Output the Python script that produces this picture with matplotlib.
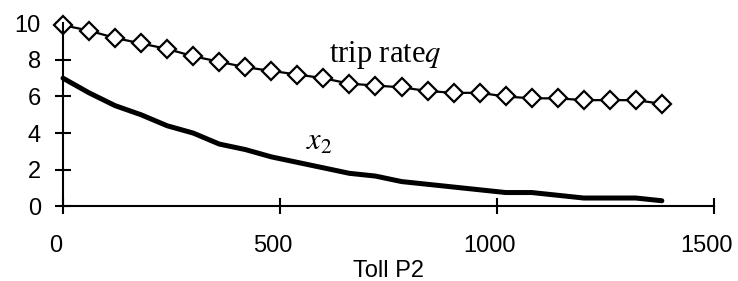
import numpy as np
import matplotlib.pyplot as plt
import matplotlib.transforms as mtransforms

# Data
toll = np.arange(0, 1381, 60)
trip_rate = [9.9, 9.6, 9.2, 8.9, 8.6, 8.2, 7.9, 7.6, 7.4, 7.2, 7.0, 6.7,
             6.6, 6.5, 6.3, 6.2, 6.2, 6.0, 5.9, 5.9, 5.8, 5.8, 5.8, 5.6]
x2 = [7.0, 6.2, 5.5, 5.0, 4.4, 4.0, 3.4, 3.1, 2.7, 2.4, 2.1, 1.8,
      1.65, 1.35, 1.2, 1.05, 0.9, 0.75, 0.75, 0.6, 0.45, 0.45, 0.45, 0.3]

plt.rcParams['font.family'] = ['Liberation Sans', 'DejaVu Sans']
plt.rcParams['mathtext.fontset'] = 'stix'

fig = plt.figure(figsize=(7.38, 2.81), dpi=100)
ax = fig.add_axes([0.0854, 0.266, 0.882, 0.651])

ax.plot(toll, x2, color='black', linewidth=3.6, solid_capstyle='round',
        solid_joinstyle='round', clip_on=False)
ax.plot(toll, trip_rate, color='black', linewidth=1.6, marker='D',
        markersize=9.5, markerfacecolor='white', markeredgecolor='black',
        markeredgewidth=1.6, clip_on=False)

ax.set_xlim(0, 1500)
ax.set_ylim(0, 10)
ax.set_xticks([0, 500, 1000, 1500])
ax.set_yticks([0, 2, 4, 6, 8, 10])
for s in ['top', 'right']:
    ax.spines[s].set_visible(False)
for s in ['left', 'bottom']:
    ax.spines[s].set_linewidth(1.5)
ax.tick_params(axis='both', direction='inout', length=12, width=1.5,
               labelsize=17)
ax.tick_params(axis='x', pad=15)
ax.tick_params(axis='y', pad=10)
ax.set_xlabel('Toll P2', fontsize=17, labelpad=2)

# x tick labels sit a little left of their ticks in the original
shift = mtransforms.ScaledTranslation(-0.07, 0, fig.dpi_scale_trans)
for lab in ax.get_xticklabels():
    lab.set_transform(lab.get_transform() + shift)

ax.text(613, 7.9, r'trip rate$q$', fontsize=22, family='Liberation Serif',
        va='baseline')
ax.text(560, 3.08, r'$x_2$', fontsize=22, va='baseline')

plt.savefig('out.png', dpi=100)
